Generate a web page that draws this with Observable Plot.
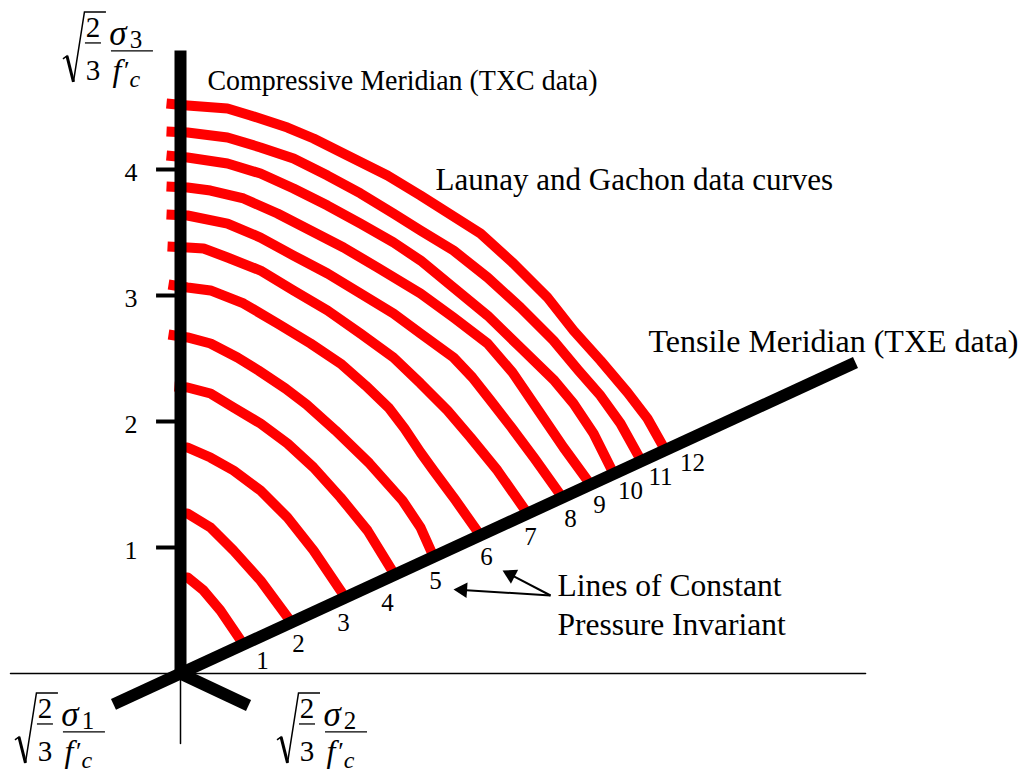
<!DOCTYPE html>
<html>
<head>
<meta charset="utf-8">
<script src="https://cdn.jsdelivr.net/npm/d3@7"></script>
<script src="https://cdn.jsdelivr.net/npm/@observablehq/plot@0.6"></script>
<style>
  html, body { margin: 0; padding: 0; background: #fff; }
  #chart svg { display: block; }
</style>
</head>
<body>
<div id="chart"></div>
<script>
// Deviatoric plane, coordinates (u, v) in units of sqrt(2/3)·σ/f'c.
// v runs up the compressive meridian, the tensile meridian rises to the right.

const yTicks = [1, 2, 3, 4];
const pressureLevels = [1, 2, 3, 4, 5, 6, 7, 8, 9, 10, 11, 12];
// where each pressure number sits along the tensile meridian (u coordinate)
const levelStations = [0.651, 0.937, 1.294, 1.643, 2.024, 2.429, 2.778, 3.095, 3.325, 3.571, 3.81, 4.063];

// Launay and Gachon data curves, one per pressure level
const curveP1 = [[0, 0.762], [0.056, 0.762], [0.183, 0.659], [0.317, 0.5], [0.5, 0.23]];
const curveP2 = [[0, 1.27], [0.056, 1.27], [0.238, 1.159], [0.421, 0.976], [0.635, 0.738], [0.881, 0.405]];
const curveP3 = [[0, 1.794], [0.056, 1.794], [0.238, 1.714], [0.421, 1.611], [0.635, 1.452], [0.849, 1.238], [1.056, 0.976], [1.27, 0.659], [1.31, 0.595]];
const curveP4 = [[-0.048, 2.278], [0.056, 2.27], [0.238, 2.222], [0.421, 2.111], [0.635, 1.984], [0.849, 1.825], [1.056, 1.635], [1.27, 1.397], [1.484, 1.135], [1.698, 0.786]];
const curveP5 = [[-0.095, 2.69], [0.056, 2.667], [0.238, 2.619], [0.452, 2.508], [0.619, 2.405], [0.833, 2.262], [1.0, 2.135], [1.23, 1.929], [1.5, 1.667], [1.762, 1.373], [1.905, 1.159], [2.008, 0.929]];
const curveP6 = [[-0.095, 3.087], [0.056, 3.063], [0.238, 3.04], [0.5, 2.937], [0.77, 2.778], [1.032, 2.619], [1.27, 2.46], [1.468, 2.286], [1.651, 2.111], [1.778, 1.944], [1.905, 1.754], [2.008, 1.611], [2.167, 1.397], [2.381, 1.095]];
const curveP7 = [[-0.103, 3.389], [0.056, 3.381], [0.183, 3.373], [0.373, 3.302], [0.635, 3.198], [0.897, 3.04], [1.167, 2.881], [1.429, 2.698], [1.69, 2.508], [1.905, 2.302], [2.119, 2.087], [2.302, 1.873], [2.516, 1.611], [2.754, 1.27]];
const curveP8 = [[-0.111, 3.643], [0.056, 3.635], [0.373, 3.571], [0.635, 3.46], [0.897, 3.317], [1.167, 3.175], [1.429, 3.016], [1.69, 2.857], [1.905, 2.698], [2.167, 2.508], [2.317, 2.349], [2.46, 2.167], [2.627, 1.952], [2.81, 1.706], [3.024, 1.405]];
const curveP9 = [[-0.111, 3.865], [0.056, 3.857], [0.238, 3.833], [0.5, 3.77], [0.77, 3.651], [1.032, 3.516], [1.294, 3.381], [1.563, 3.222], [1.905, 3.016], [2.167, 2.825], [2.437, 2.619], [2.635, 2.389], [2.857, 2.063], [3.04, 1.794], [3.254, 1.5]];
const curveP10 = [[-0.111, 4.111], [0.056, 4.095], [0.373, 4.048], [0.635, 3.968], [0.897, 3.849], [1.167, 3.714], [1.429, 3.571], [1.69, 3.421], [1.905, 3.278], [2.167, 3.063], [2.437, 2.841], [2.698, 2.587], [2.96, 2.333], [3.119, 2.143], [3.278, 1.905], [3.437, 1.587]];
const curveP11 = [[-0.111, 4.302], [0.056, 4.294], [0.373, 4.254], [0.635, 4.175], [0.897, 4.087], [1.167, 3.952], [1.429, 3.81], [1.69, 3.651], [1.905, 3.516], [2.167, 3.357], [2.437, 3.143], [2.698, 2.905], [2.96, 2.643], [3.159, 2.405], [3.333, 2.206], [3.492, 1.984], [3.659, 1.683]];
const curveP12 = [[-0.111, 4.524], [0.056, 4.508], [0.373, 4.484], [0.556, 4.429], [0.849, 4.333], [1.056, 4.246], [1.325, 4.111], [1.643, 3.952], [1.905, 3.794], [2.143, 3.643], [2.381, 3.492], [2.643, 3.254], [2.913, 2.984], [3.119, 2.722], [3.333, 2.484], [3.548, 2.23], [3.706, 2.024], [3.849, 1.77]];

// principal stress axes and reference lines
const compressiveAxis = [[0, 0], [0, 4.944]];
const tensileAxis = [[-0.532, -0.245], [5.357, 2.468]];
const sigma2Axis = [[0, 0], [0.54, -0.254]];
const baseLine = [[-1.349, 0], [5.437, 0]];
const dropLine = [[0, 0], [0, -0.556]];

// callout arrows
const arrowTail = [2.937, 0.619];
const arrowTips = [[2.167, 0.667], [2.556, 0.817]];

const pxPerUnit = 126;
const W = 1021, H = 775;
const originPx = [180, 673];
const serif = "'Liberation Serif', 'Times New Roman', Times, serif";

const curves = [curveP1, curveP2, curveP3, curveP4, curveP5, curveP6,
                curveP7, curveP8, curveP9, curveP10, curveP11, curveP12];
const curveRows = curves.flatMap((pts, i) =>
  pts.map(([u, v]) => ({u, v, level: pressureLevels[i]})));

const slope = tensileAxis[1][1] / tensileAxis[1][0];
const levelLabels = pressureLevels.map((p, i) =>
  ({u: levelStations[i], v: levelStations[i] * slope, text: String(p)}));

// arrowheads: centroid pulled back from the tip along the shaft direction
const headBack = 9; // px
const heads = arrowTips.map(([u, v]) => {
  const dx = (u - arrowTail[0]) * pxPerUnit;
  const dy = -(v - arrowTail[1]) * pxPerUnit;
  const len = Math.hypot(dx, dy);
  const ux = dx / len, uy = dy / len;
  return {
    u: u - ux * headBack / pxPerUnit,
    v: v + uy * headBack / pxPerUnit,
    angle: Math.atan2(dx, -dy) * 180 / Math.PI
  };
});

const seg = (pts) => pts.map(([u, v]) => ({u, v}));
const note = (text, u, v, size, extra = {}) =>
  Plot.text([text], {x: () => u, y: () => v, text: d => d, textAnchor: "start",
    lineAnchor: "bottom", fontSize: size, fill: "black", ...extra});

const plot = Plot.plot({
  width: W,
  height: H,
  margin: 0,
  style: {background: "white", fontFamily: serif},
  x: {domain: [-originPx[0] / pxPerUnit, (W - originPx[0]) / pxPerUnit], axis: null},
  y: {domain: [(originPx[1] - H) / pxPerUnit, originPx[1] / pxPerUnit], axis: null},
  marks: [
    // thin reference lines
    Plot.line(seg(baseLine), {x: "u", y: "v", stroke: "black", strokeWidth: 1.5}),
    Plot.line(seg(dropLine), {x: "u", y: "v", stroke: "black", strokeWidth: 1.5}),
    // data curves
    Plot.line(curveRows, {x: "u", y: "v", z: "level", stroke: "#ff0000", strokeWidth: 10,
      strokeLinecap: "butt", strokeLinejoin: "round", curve: "linear"}),
    // meridians and σ2 axis
    Plot.line(seg(compressiveAxis), {x: "u", y: "v", stroke: "black", strokeWidth: 12, strokeLinecap: "butt"}),
    Plot.line(seg(tensileAxis), {x: "u", y: "v", stroke: "black", strokeWidth: 12, strokeLinecap: "butt"}),
    Plot.line(seg(sigma2Axis), {x: "u", y: "v", stroke: "black", strokeWidth: 12, strokeLinecap: "butt"}),
    // ticks on the compressive meridian
    Plot.ruleY(yTicks, {y: d => d, x1: -0.19, x2: 0, stroke: "black", strokeWidth: 4}),
    Plot.text(yTicks, {y: d => d, x: 0, text: d => String(d), textAnchor: "end", dx: -43, dy: 3,
      fontSize: 26, fill: "black"}),
    // pressure level numbers along the tensile meridian
    Plot.text(levelLabels, {x: "u", y: "v", text: "text", dy: 25, fontSize: 25, fill: "black"}),
    // annotation text
    note("Compressive Meridian (TXC data)", 0.214, 4.627, 30),
    note("Launay and Gachon data curves", 2.024, 3.841, 31),
    note("Tensile Meridian (TXE data)", 3.714, 2.548, 32),
    note("Lines of Constant\nPressure Invariant", 2.992, 0.302, 31.5, {lineHeight: 1.24}),
    // callout arrows
    Plot.link(heads, {x1: () => arrowTail[0], y1: () => arrowTail[1], x2: "u", y2: "v",
      stroke: "black", strokeWidth: 2}),
    Plot.dot(heads, {x: "u", y: "v", symbol: "triangle", r: 5.8, rotate: "angle", fill: "black", stroke: "none"})
  ]
});

const svg = d3.select(plot);

// the compressive-meridian caption is set slightly condensed
svg.selectAll("text")
  .filter(function () { return this.textContent.startsWith("Compressive"); })
  .attr("textLength", 390)
  .attr("lengthAdjust", "spacingAndGlyphs");

// axis labels of the form  sqrt(2/3) · σ_i / f'_c
const xs = plot.scale("x"), ys = plot.scale("y");
function stressLabel(u, v, sub) {
  const g = svg.append("g")
    .attr("transform", `translate(${xs.apply(u)},${ys.apply(v)})`)
    .attr("font-family", serif)
    .attr("fill", "black");
  // radical sign
  g.append("path").attr("d", "M0,8 L4,5 L10.5,31 L21.5,-39 L43,-39")
    .attr("fill", "none").attr("stroke", "black").attr("stroke-width", 1.5)
    .attr("stroke-linejoin", "miter");
  g.append("path").attr("d", "M4,5 L10.5,31")
    .attr("stroke", "black").attr("stroke-width", 3);
  // 2/3 under the radical
  g.append("text").attr("x", 30).attr("y", -14).attr("text-anchor", "middle").attr("font-size", 29).text("2");
  g.append("line").attr("x1", 22).attr("x2", 38).attr("y1", -8).attr("y2", -8)
    .attr("stroke", "black").attr("stroke-width", 1.3);
  g.append("text").attr("x", 30).attr("y", 29).attr("text-anchor", "middle").attr("font-size", 29).text("3");
  // σ_i over f'_c
  const num = g.append("text");
  num.append("tspan").attr("x", 55).attr("y", -6).attr("font-size", 35).attr("font-style", "italic").text("σ");
  num.append("tspan").attr("x", 73).attr("y", -3).attr("font-size", 25).text(sub);
  g.append("line").attr("x1", 48).attr("x2", 90).attr("y1", 0).attr("y2", 0)
    .attr("stroke", "black").attr("stroke-width", 1.3);
  const den = g.append("text");
  den.append("tspan").attr("x", 54).attr("y", 30).attr("font-size", 32).attr("font-style", "italic").text("f");
  den.append("tspan").attr("x", 64).attr("y", 28).attr("font-size", 26).text("′");
  den.append("tspan").attr("x", 72).attr("y", 36).attr("font-size", 24).attr("font-style", "italic").text("c");
}
stressLabel(-0.929, 4.937, "3");
stressLabel(-1.31, -0.468, "1");
stressLabel(0.77, -0.468, "2");

document.getElementById("chart").appendChild(plot);
</script>
</body>
</html>
